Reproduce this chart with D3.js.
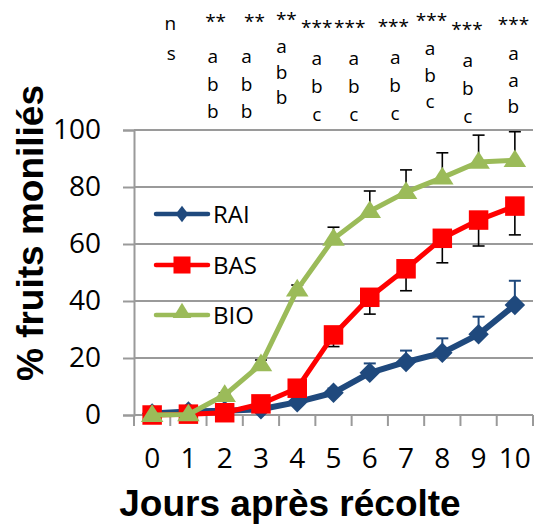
<!DOCTYPE html>
<html><head><meta charset="utf-8">
<script src="https://cdn.jsdelivr.net/npm/d3@7"></script>
<style>html,body{margin:0;padding:0;background:#fff;}</style>
</head><body>
<svg id="chart" width="543" height="524"></svg>
<script>
// ---- data ----
const days = [0,1,2,3,4,5,6,7,8,9,10];
const RAI = [0.5, 1.2, 1.5, 2.0, 4.5, 7.8, 14.8, 18.6, 21.8, 28.3, 38.6];
const RAIerr = [0, 0.4, 0.4, 0.5, 0.8, 1.5, 3.3, 4.0, 5.1, 6.2, 8.5];
const BAS = [0, 0.3, 0.8, 3.9, 9.4, 28.1, 41.3, 51.3, 62.0, 68.4, 73.3];
const BASerr = [0, 0, 0.4, 0.8, 1.2, 4.1, 5.9, 7.7, 8.6, 9.1, 10.1];
const BIO = [0, 0.2, 7.0, 17.8, 44.0, 61.8, 71.5, 78.2, 83.3, 88.8, 89.4];
const BIOerr = [0, 0, 0.8, 1.5, 1.6, 4.1, 7.1, 7.8, 8.7, 9.4, 10.0];
const yTicks = [0,20,40,60,80,100];
const seriesNames = ["RAI","BAS","BIO"];
const sigLabels = ["ns","**","**","**","***","***","***","***","***","***"];
const letterGroups = ["", "abb","abb","abb","abc","abc","abc","abc","abc","aab"];

// ---- layout ----
const starDayPos = [0.5, 1.75, 2.82, 3.7, 4.54, 5.45, 6.65, 7.7, 8.68, 9.96];
const letterDayPos = [0.53, 1.67, 2.6, 3.57, 4.54, 5.56, 6.7, 7.66, 8.7, 9.96];
const starBase = [30, 28, 28, 26, 34, 34, 33, 27, 36, 31];
const letterBase = [60, 63, 63, 53, 65, 65, 64, 55, 67, 60];
const letterStep = [0, 27.5, 27.5, 25.5, 28, 28, 28, 26.5, 28, 26.5];

const svg = d3.select("#chart");
const X0 = 134, X1 = 533, Y0 = 415, Y1 = 130;
const x = d3.scaleBand().domain(days).range([X0, X1]).padding(0);
const cx = d => x(d) + x.bandwidth()/2;
const xLin = d3.scaleLinear().domain([0, 10]).range([cx(0), cx(10)]);
const y = d3.scaleLinear().domain([0, 100]).range([Y0, Y1]);
const tickFont = "'Open Sans', 'Noto Sans', sans-serif";
const gridCol = "#9a9a9a";

// gridlines
svg.append("g").selectAll("line").data(yTicks.filter(t=>t>0)).join("line")
  .attr("x1", X0).attr("x2", X1).attr("y1", d=>y(d)).attr("y2", d=>y(d))
  .attr("stroke", gridCol).attr("stroke-width", 2);

// y axis
const yAxis = d3.axisLeft(y).tickValues(yTicks).tickSize(11).tickPadding(22);
const gy = svg.append("g").attr("transform", `translate(${X0},0)`).call(yAxis);
gy.select(".domain").attr("stroke", gridCol).attr("stroke-width", 2);
gy.selectAll(".tick line").attr("stroke", gridCol).attr("stroke-width", 2);
gy.selectAll(".tick text").attr("font-family", tickFont).attr("font-size", 28).attr("fill", "#000");

// x axis line + ticks at category boundaries
svg.append("line").attr("x1", X0).attr("x2", X1).attr("y1", Y0).attr("y2", Y0)
  .attr("stroke", gridCol).attr("stroke-width", 2);
const bounds = days.map(d => x(d)).concat([X1]);
svg.append("g").selectAll("line").data(bounds).join("line")
  .attr("x1", d=>d).attr("x2", d=>d).attr("y1", Y0).attr("y2", Y0+11)
  .attr("stroke", gridCol).attr("stroke-width", 2);
svg.append("g").selectAll("text").data(days).join("text")
  .attr("x", d=>cx(d)).attr("y", 468).attr("text-anchor", "middle")
  .attr("font-family", tickFont).attr("font-size", 28).text(d=>d);

// axis titles
svg.append("text").attr("x", 290).attr("y", 516).attr("text-anchor", "middle")
  .attr("font-family", "'Liberation Sans', Arial, sans-serif").attr("font-weight", "bold")
  .attr("font-size", 37).text("Jours après récolte");
svg.append("text").attr("transform", "translate(43,233) rotate(-90)").attr("text-anchor", "middle")
  .attr("font-family", "'Liberation Sans', Arial, sans-serif").attr("font-weight", "bold")
  .attr("font-size", 37).text("% fruits moniliés");

// series
const cfg = [
  {name:"RAI", vals:RAI, err:RAIerr, dir:1, color:"#1F497D", errColor:"#1F497D", width:6, shape:d3.symbolSquare, size:210,
   tf:"rotate(45)", legTf:"scale(0.75,1) rotate(45)", legSize:140},
  {name:"BAS", vals:BAS, err:BASerr, dir:-1, color:"#FF0000", errColor:"#000", width:5, shape:d3.symbolSquare, size:380,
   tf:"", legTf:"", legSize:290},
  {name:"BIO", vals:BIO, err:BIOerr, dir:1, color:"#9BBB59", errColor:"#000", width:5, shape:d3.symbolTriangle, size:200,
   tf:"translate(0,1) scale(1.05,0.95)", legTf:"translate(0,-2) scale(1.0,0.95)", legSize:150}
];
const line = d3.line().x((d,i)=>cx(days[i])).y(d=>y(d));

cfg.forEach(s => {
  const g = svg.append("g");
  const eb = g.append("g").attr("stroke", s.errColor).attr("stroke-width", s.name==="RAI"?2:1.6);
  days.forEach((d,i) => {
    if (s.err[i] <= 0) return;
    const v0 = s.vals[i], v1 = s.vals[i] + s.dir*s.err[i];
    eb.append("line").attr("x1", cx(d)).attr("x2", cx(d)).attr("y1", y(v0)).attr("y2", y(v1));
    eb.append("line").attr("x1", cx(d)-6).attr("x2", cx(d)+6).attr("y1", y(v1)).attr("y2", y(v1));
  });
  g.append("path").datum(s.vals).attr("d", line).attr("fill", "none")
    .attr("stroke", s.color).attr("stroke-width", s.width).attr("stroke-linejoin", "round");
  const sym = d3.symbol().type(s.shape).size(s.size);
  g.append("g").selectAll("path").data(s.vals).join("path")
    .attr("d", sym)
    .attr("transform", (d,i)=> `translate(${cx(days[i])},${y(d)}) ${s.tf}`)
    .attr("fill", s.color);
});

// legend
const legY = [214, 265, 315];
cfg.forEach((s, i) => {
  const g = svg.append("g").attr("transform", `translate(0,${legY[i]})`);
  g.append("line").attr("x1", 156).attr("x2", 208).attr("y1", 0).attr("y2", 0)
    .attr("stroke", s.color).attr("stroke-width", 4.5).attr("stroke-linecap", "round");
  g.append("path").attr("d", d3.symbol().type(s.shape).size(s.legSize)())
    .attr("transform", `translate(182,0) ${s.legTf}`)
    .attr("fill", s.color);
  g.append("text").attr("x", 213).attr("y", 9).attr("font-family", tickFont).attr("font-size", 24)
    .text(s.name);
});

// significance annotations
const ann = svg.append("g").attr("font-family", tickFont).attr("font-size", 19).attr("text-anchor", "middle");
sigLabels.forEach((lab, i) => {
  if (lab === "ns") {
    ann.append("text").attr("x", xLin(starDayPos[i])).attr("y", starBase[i]).text("n");
    ann.append("text").attr("x", xLin(letterDayPos[i])).attr("y", letterBase[i]).text("s");
    return;
  }
  ann.append("text").attr("x", xLin(starDayPos[i])).attr("y", starBase[i]).text(lab);
  letterGroups[i].split("").forEach((ch, k) => {
    ann.append("text").attr("x", xLin(letterDayPos[i])).attr("y", letterBase[i] + k*letterStep[i]).text(ch);
  });
});
</script>
</body></html>
